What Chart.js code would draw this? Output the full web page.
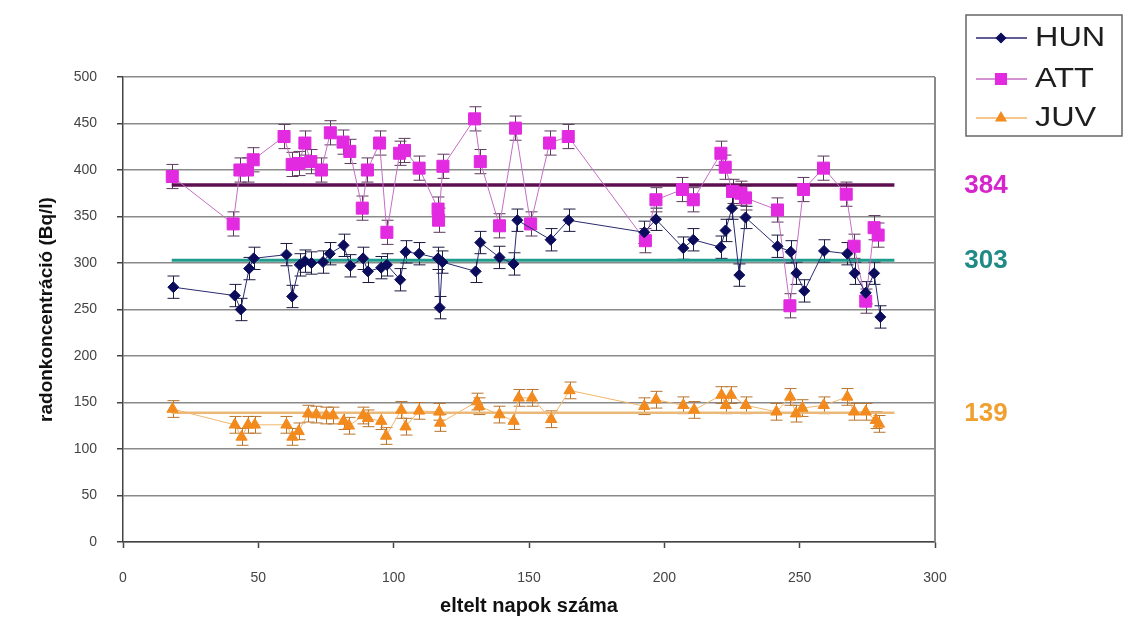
<!DOCTYPE html>
<html>
<head>
<meta charset="utf-8">
<script src="https://cdn.jsdelivr.net/npm/chart.js@4.4.0/dist/chart.umd.min.js"></script>
<style>
  html, body { margin: 0; padding: 0; background: #fff; }
  #wrap { width: 1134px; height: 628px; }
</style>
</head>
<body>
<div id="wrap"><canvas id="chart" width="1134" height="628"></canvas></div>
<script>
// measurement days and radon concentrations (Bq/l) per site
const hunDays = [18.6, 41.3, 43.5, 46.6, 48.3, 60.4, 62.5, 65.3, 67.2, 69.6, 73.9, 76.4, 81.5, 84, 88.7, 90.5, 95.4, 97.5, 102.4, 104.4, 109.4, 116.4, 117, 118, 130.3, 132, 139.1, 144.3, 145.7, 158, 164.6, 192.6, 196.9, 207, 210.7, 220.8, 222.6, 225, 227.7, 230, 241.8, 246.7, 248.8, 251.7, 259, 267.6, 270.3, 274.4, 277.5, 279.8];
const hunValues = [274, 265, 250, 294, 305, 309, 264, 298, 302, 300, 301, 310, 319, 297, 305, 291, 295, 298, 282, 312, 310, 305, 252, 301, 291, 322, 306, 299, 346, 325, 346, 333, 347, 316, 325, 317, 335, 359, 287, 349, 318, 312, 289, 270, 313, 310, 289, 268, 289, 242];

const attDays = [18.2, 40.7, 43.2, 46, 48.1, 59.5, 62.5, 65, 67.2, 69.4, 73.3, 76.6, 81.3, 83.8, 88.4, 90.3, 94.8, 97.5, 102.2, 104, 109.4, 116.4, 116.6, 118.2, 129.9, 132, 139.1, 145, 150.6, 157.6, 164.5, 193, 196.9, 206.7, 210.7, 220.9, 222.5, 225.2, 228.3, 230, 241.8, 246.4, 251.4, 258.8, 267.2, 270.1, 274.4, 277.5, 279];
const attValues = [393, 342, 400, 400, 411, 436, 406, 407, 429, 409, 400, 440, 430, 420, 359, 400, 429, 333, 418, 421, 402, 358, 346, 404, 455, 409, 340, 445, 342, 429, 436, 324, 368, 379, 368, 418, 403, 377, 375, 370, 357, 254, 379, 402, 374, 318, 259, 338, 330];

const juvDays = [18.3, 41.3, 43.8, 46.2, 48.7, 60.4, 62.6, 64.9, 68.4, 71.4, 75.1, 77.6, 81.5, 83.5, 88.7, 90.5, 95.4, 97.2, 102.8, 104.4, 109.4, 116.8, 117.2, 130.8, 131.6, 139.1, 144.3, 146.2, 151.1, 158.2, 165, 192.6, 196.9, 207, 211, 221.1, 222.7, 224.6, 230.1, 241.4, 246.5, 248.6, 251, 258.9, 267.6, 270.1, 274.4, 278.1, 279.3];
const juvValues = [143, 126, 113, 126, 126, 126, 113, 119, 138, 137, 136, 136, 130, 125, 136, 133, 130, 114, 142, 124, 141, 140, 128, 151, 146, 137, 130, 155, 155, 132, 163, 146, 153, 147, 142, 158, 147, 158, 147, 140, 156, 138, 144, 147, 156, 140, 140, 131, 127];

// half-length of the error bars (Bq/l)
const hunError = 12;
const attError = 13;
const juvError = 9;

// site averages and the day span of the average lines
const siteNames = ['HUN', 'ATT', 'JUV'];
const meanValues = [303, 384, 139];
const meanFrom = 18;
const meanTo = 285;

const yTicks = [0, 50, 100, 150, 200, 250, 300, 350, 400, 450, 500];
const xTicks = [0, 50, 100, 150, 200, 250, 300];

const toPoints = (days, values) => days.map((d, i) => ({ x: d, y: values[i] }));
const meanLine = v => [{ x: meanFrom, y: v }, { x: meanTo, y: v }];

const FONT = "'Liberation Sans', Arial, sans-serif";

const series = [
  { label: 'HUN', data: toPoints(hunDays, hunValues), err: hunError,
    color: '#0c0c5c', line: '#2a2a70', errColor: '#1a1a40', style: 'rectRot', radius: 5.5 },
  { label: 'ATT', data: toPoints(attDays, attValues), err: attError,
    color: '#e22ae0', line: '#c46ec4', errColor: '#5c3a5c', style: 'rect', radius: 8.5 },
  { label: 'JUV', data: toPoints(juvDays, juvValues), err: juvError,
    color: '#f28a1e', line: '#f2b56a', errColor: '#b8742e', style: 'triangle', radius: 6.5 }
];

const meanColors = ['#1f9c8e', '#5c1052', '#eab97a'];
const meanWidths = [3, 3.5, 2.5];
const meanLabelColors = ['#1f8a86', '#d624cc', '#f0a030'];

const datasets = series.map(s => ({
  label: s.label,
  data: s.data,
  errorBar: s.err,
  errorColor: s.errColor,
  borderColor: s.line,
  borderWidth: 1,
  backgroundColor: s.color,
  pointBackgroundColor: s.color,
  pointBorderColor: s.color,
  pointBorderWidth: 1,
  pointStyle: s.style,
  pointRadius: s.radius,
  tension: 0,
  order: 1
}));

meanValues.forEach((v, i) => {
  datasets.push({
    label: siteNames[i] + ' átlag',
    data: meanLine(v),
    borderColor: meanColors[i],
    borderWidth: meanWidths[i],
    pointRadius: 0,
    order: 5
  });
});

// vertical error bars with caps, drawn under the markers
const errorBars = {
  id: 'errorBars',
  beforeDatasetsDraw(chart) {
    const { ctx, scales: { x, y } } = chart;
    chart.data.datasets.forEach(ds => {
      if (!ds.errorBar) return;
      ctx.save();
      ctx.strokeStyle = ds.errorColor;
      ctx.lineWidth = 1;
      ds.data.forEach(p => {
        const px = Math.round(x.getPixelForValue(p.x)) + 0.5;
        const top = y.getPixelForValue(p.y + ds.errorBar);
        const bot = y.getPixelForValue(p.y - ds.errorBar);
        ctx.beginPath();
        ctx.moveTo(px, top);
        ctx.lineTo(px, bot);
        ctx.moveTo(px - 6, top);
        ctx.lineTo(px + 6, top);
        ctx.moveTo(px - 6, bot);
        ctx.lineTo(px + 6, bot);
        ctx.stroke();
      });
      ctx.restore();
    });
  }
};

// right frame of the plot, average labels and the legend box
const overlay = {
  id: 'overlay',
  afterDraw(chart) {
    const { ctx, chartArea: a, scales: { y } } = chart;
    ctx.save();

    ctx.strokeStyle = '#8a8a8a';
    ctx.lineWidth = 2;
    ctx.beginPath();
    ctx.moveTo(a.right, a.top);
    ctx.lineTo(a.right, a.bottom);
    ctx.stroke();

    ctx.font = 'bold 26px ' + FONT;
    ctx.textAlign = 'center';
    ctx.textBaseline = 'middle';
    meanValues.forEach((v, i) => {
      ctx.fillStyle = meanLabelColors[i];
      ctx.fillText(String(v), 986, y.getPixelForValue(v) + 1);
    });

    // legend
    ctx.fillStyle = '#fff';
    ctx.fillRect(966, 15, 156, 121);
    ctx.strokeStyle = '#666';
    ctx.lineWidth = 1.5;
    ctx.strokeRect(966, 15, 156, 121);
    const rows = [38, 79, 118];
    series.forEach((s, i) => {
      const ly = rows[i];
      ctx.strokeStyle = s.line;
      ctx.lineWidth = 1.5;
      ctx.beginPath();
      ctx.moveTo(976, ly);
      ctx.lineTo(1027, ly);
      ctx.stroke();
      ctx.fillStyle = s.color;
      ctx.strokeStyle = s.color;
      Chart.helpers.drawPoint(ctx, {
        pointStyle: s.style, radius: s.radius - 1, borderWidth: 1, rotation: 0
      }, 1001, ly);
      // legend text is a touch wider than the regular face
      ctx.save();
      ctx.translate(1035, ly + 1);
      ctx.scale(1.2, 1);
      ctx.fillStyle = '#1e1e1e';
      ctx.font = '27px ' + FONT;
      ctx.textAlign = 'left';
      ctx.fillText(s.label, 0, 0);
      ctx.restore();
    });
    ctx.restore();
  }
};

new Chart(document.getElementById('chart'), {
  type: 'line',
  data: { datasets },
  plugins: [errorBars, overlay],
  options: {
    responsive: false,
    animation: false,
    events: [],
    layout: { padding: { left: 0, top: 77, right: 199, bottom: 0 } },
    plugins: { legend: { display: false }, tooltip: { enabled: false } },
    scales: {
      x: {
        type: 'linear',
        min: 0,
        max: 300,
        afterFit: s => { s.height = 86; },
        afterBuildTicks: s => { s.ticks = xTicks.map(v => ({ value: v })); },
        ticks: { color: '#444', font: { family: FONT, size: 14 }, padding: 22 },
        grid: { drawOnChartArea: false, drawTicks: true, tickLength: 6, tickColor: '#444', tickWidth: 1.5 },
        border: { color: '#444', width: 1.5 },
        title: {
          display: true,
          text: 'eltelt napok száma',
          color: '#111',
          font: { family: FONT, size: 20, weight: 'bold' },
          padding: { top: 0, bottom: 10 }
        }
      },
      y: {
        min: 0,
        max: 500,
        afterFit: s => { s.width = 123; },
        afterBuildTicks: s => { s.ticks = yTicks.map(v => ({ value: v })); },
        ticks: { color: '#444', font: { family: FONT, size: 14 }, padding: 20 },
        grid: { color: '#8a8a8a', lineWidth: 1.5, drawTicks: true, tickLength: 6, tickColor: '#444' },
        border: { color: '#444', width: 1.5 },
        title: {
          display: true,
          text: 'radonkoncentráció (Bq/l)',
          color: '#111',
          font: { family: FONT, size: 19, weight: 'bold' },
          padding: { top: 35, bottom: 0 }
        }
      }
    }
  }
});
</script>
</body>
</html>
